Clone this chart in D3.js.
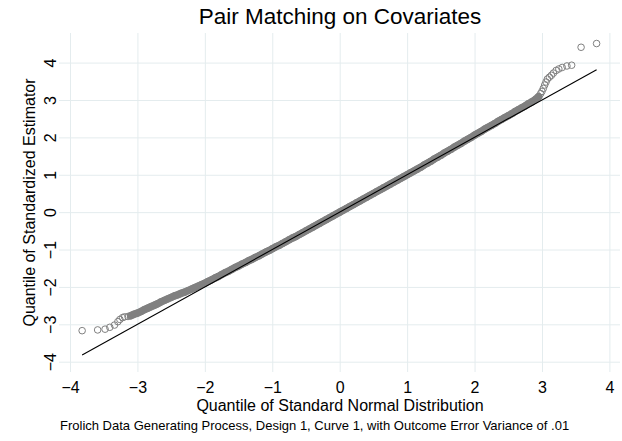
<!DOCTYPE html>
<html>
<head>
<meta charset="utf-8">
<script src="https://cdn.jsdelivr.net/npm/d3@7"></script>
<style>
  body { margin: 0; background: #fff; }
  svg { display: block; font-family: "Liberation Sans", Arial, sans-serif; }
</style>
</head>
<body>
<svg></svg>
<script>
const width = 622;
const height = 441;

// quantiles of the standard normal (x) against quantiles of the standardized estimator (y)
const lowTailX = [-3.82, -3.59, -3.48, -3.41, -3.34, -3.29, -3.26, -3.22, -3.19, -3.14];
const lowTailY = [-3.17, -3.15, -3.13, -3.08, -3.02, -2.93, -2.87, -2.82, -2.80, -2.79];

const bandX = [-3.10, -3.05, -3.00, -2.95, -2.90, -2.85, -2.80, -2.75, -2.70, -2.65,
  -2.60, -2.55, -2.50, -2.45, -2.40, -2.35, -2.30, -2.25, -2.20, -2.15,
  -2.10, -2.05, -2.00, -1.95, -1.90, -1.85, -1.80, -1.75, -1.70, -1.65,
  -1.60, -1.55, -1.50, -1.45, -1.40, -1.35, -1.30, -1.25, -1.20, -1.15,
  -1.10, -1.05, -1.00, -0.95, -0.90, -0.85, -0.80, -0.75, -0.70, -0.65,
  -0.60, -0.55, -0.50, -0.45, -0.40, -0.35, -0.30, -0.25, -0.20, -0.15,
  -0.10, -0.05, 0.00, 0.05, 0.10, 0.15, 0.20, 0.25, 0.30, 0.35,
  0.40, 0.45, 0.50, 0.55, 0.60, 0.65, 0.70, 0.75, 0.80, 0.85,
  0.90, 0.95, 1.00, 1.05, 1.10, 1.15, 1.20, 1.25, 1.30, 1.35,
  1.40, 1.45, 1.50, 1.55, 1.60, 1.65, 1.70, 1.75, 1.80, 1.85,
  1.90, 1.95, 2.00, 2.05, 2.10, 2.15, 2.20, 2.25, 2.30, 2.35,
  2.40, 2.45, 2.50, 2.55, 2.60, 2.65, 2.70, 2.75, 2.80, 2.85,
  2.90, 2.95];
const bandY = [-2.77, -2.73, -2.70, -2.66, -2.61, -2.57, -2.53, -2.49, -2.45, -2.40,
  -2.36, -2.32, -2.28, -2.24, -2.21, -2.17, -2.14, -2.10, -2.06, -2.02,
  -1.98, -1.94, -1.90, -1.85, -1.81, -1.76, -1.72, -1.67, -1.62, -1.58,
  -1.53, -1.48, -1.44, -1.39, -1.35, -1.30, -1.26, -1.21, -1.17, -1.12,
  -1.07, -1.03, -0.98, -0.93, -0.89, -0.84, -0.79, -0.74, -0.69, -0.65,
  -0.60, -0.55, -0.50, -0.45, -0.40, -0.35, -0.30, -0.25, -0.20, -0.15,
  -0.10, -0.05, 0.00, 0.05, 0.10, 0.15, 0.20, 0.25, 0.30, 0.35,
  0.40, 0.45, 0.50, 0.55, 0.60, 0.65, 0.70, 0.75, 0.80, 0.85,
  0.90, 0.95, 1.00, 1.05, 1.10, 1.15, 1.20, 1.26, 1.31, 1.36,
  1.42, 1.47, 1.52, 1.58, 1.63, 1.68, 1.74, 1.79, 1.84, 1.90,
  1.95, 2.00, 2.06, 2.11, 2.16, 2.22, 2.27, 2.32, 2.37, 2.43,
  2.48, 2.53, 2.58, 2.63, 2.69, 2.74, 2.79, 2.84, 2.90, 2.95,
  3.01, 3.09];

const highTailX = [2.98, 3.00, 3.02, 3.04, 3.06, 3.08, 3.11, 3.14, 3.17, 3.21, 3.25, 3.30, 3.37, 3.44, 3.58, 3.81];
const highTailY = [3.17, 3.23, 3.31, 3.40, 3.48, 3.56, 3.61, 3.66, 3.72, 3.79, 3.83, 3.87, 3.91, 3.93, 4.41, 4.51];

const xTicks = [-4, -3, -2, -1, 0, 1, 2, 3, 4];
const yTicks = [-4, -3, -2, -1, 0, 1, 2, 3, 4];

const plot = { left: 59, right: 620, top: 33, bottom: 372 };
const gridColor = '#e4ecee';
const markColor = '#808080';

const svg = d3.select('svg')
    .attr('width', width)
    .attr('height', height);

svg.append('rect')
    .attr('width', width)
    .attr('height', height)
    .attr('fill', '#fff');

const x = d3.scaleLinear().domain([-4, 4]).range([70, 609.4]);
const y = d3.scaleLinear().domain([-4, 4]).range([361.7, 62.6]);

// x axis with full-height grid
const xAxis = svg.append('g')
    .attr('transform', `translate(0,${plot.bottom})`)
    .call(d3.axisBottom(x).tickValues(xTicks).tickFormat(d3.format('d'))
        .tickSize(-(plot.bottom - plot.top)).tickPadding(10));
xAxis.select('.domain').remove();
xAxis.selectAll('line').attr('stroke', gridColor);
xAxis.selectAll('text')
    .attr('fill', '#000')
    .style('font-size', '16px')
    .style('font-family', '"Liberation Sans", Arial, sans-serif');

// y axis with full-width grid, rotated labels
const yAxis = svg.append('g')
    .attr('transform', `translate(${plot.left},0)`)
    .call(d3.axisLeft(y).tickValues(yTicks).tickFormat(d3.format('d'))
        .tickSize(-(plot.right - plot.left)));
yAxis.select('.domain').remove();
yAxis.selectAll('line').attr('stroke', gridColor);
yAxis.selectAll('text')
    .attr('transform', 'rotate(-90)')
    .attr('x', 0)
    .attr('y', -3)
    .attr('dy', 0)
    .attr('text-anchor', 'middle')
    .attr('fill', '#000')
    .style('font-size', '16px')
    .style('font-family', '"Liberation Sans", Arial, sans-serif');

const points = [];
lowTailX.forEach((d, i) => points.push([d, lowTailY[i]]));
bandX.forEach((d, i) => points.push([d, bandY[i]]));
highTailX.forEach((d, i) => points.push([d, highTailY[i]]));

// the dense middle of the Q-Q plot reads as a solid band of overlapping markers
const band = bandX.map((d, i) => [d, bandY[i]]);
svg.append('path')
    .datum(band)
    .attr('d', d3.line().x(d => x(d[0])).y(d => y(d[1])))
    .attr('fill', 'none')
    .attr('stroke', markColor)
    .attr('stroke-width', 7.5)
    .attr('stroke-linecap', 'round')
    .attr('stroke-linejoin', 'round');

svg.selectAll('circle.pt')
    .data(points)
    .enter()
    .append('circle')
    .attr('class', 'pt')
    .attr('cx', d => x(d[0]))
    .attr('cy', d => y(d[1]))
    .attr('r', 3.3)
    .attr('fill', 'none')
    .attr('stroke', markColor)
    .attr('stroke-width', 1);

// 45 degree reference line
const lineEnds = [d3.min(lowTailX), d3.max(highTailX)];
svg.append('line')
    .attr('x1', x(lineEnds[0]))
    .attr('y1', y(lineEnds[0]))
    .attr('x2', x(lineEnds[1]))
    .attr('y2', y(lineEnds[1]))
    .attr('stroke', '#000')
    .attr('stroke-width', 1.1);

// titles
svg.append('text')
    .attr('x', 340)
    .attr('y', 24)
    .attr('text-anchor', 'middle')
    .style('font-size', '22.5px')
    .text('Pair Matching on Covariates');

svg.append('text')
    .attr('x', 340)
    .attr('y', 411)
    .attr('text-anchor', 'middle')
    .style('font-size', '16px')
    .text('Quantile of Standard Normal Distribution');

svg.append('text')
    .attr('transform', 'translate(35,202.5) rotate(-90)')
    .attr('text-anchor', 'middle')
    .style('font-size', '16px')
    .text('Quantile of Standardized Estimator');

svg.append('text')
    .attr('x', 60)
    .attr('y', 430)
    .style('font-size', '13px')
    .text('Frolich Data Generating Process, Design 1, Curve 1, with Outcome Error Variance of .01');
</script>
</body>
</html>
